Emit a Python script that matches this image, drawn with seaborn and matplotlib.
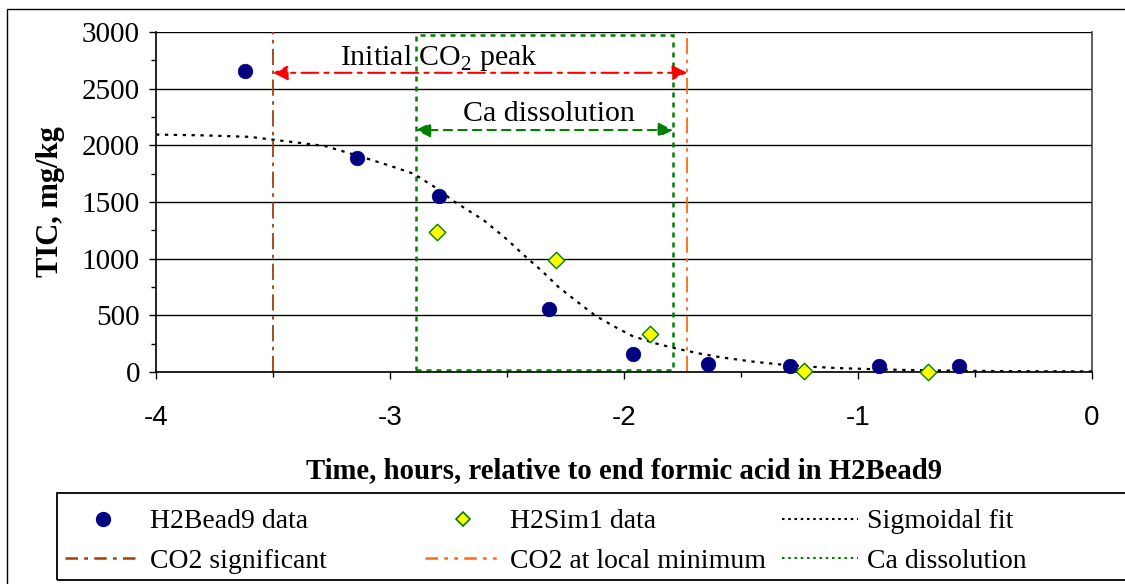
import matplotlib
matplotlib.use("Agg")
import matplotlib.pyplot as plt
import matplotlib.patches as mpatches
from matplotlib.lines import Line2D
from matplotlib.ticker import MultipleLocator
import seaborn as sns
import pandas as pd

# ---- data ----
bead_time = [-3.62, -3.14, -2.79, -2.32, -1.96, -1.64, -1.29, -0.91, -0.57]
bead_tic = [2655, 1890, 1550, 555, 155, 72, 53, 53, 53]

sim_time = [-2.80, -2.29, -1.89, -1.23, -0.70]
sim_tic = [1232, 990, 332, 5, 3]

fit_time = [-4.0, -3.8, -3.6, -3.48, -3.28, -3.14, -3.0, -2.9, -2.8, -2.73, -2.6,
            -2.5, -2.43, -2.35, -2.28, -2.2, -2.12, -2.04, -1.965, -1.87, -1.775,
            -1.67, -1.574, -1.45, -1.34, -1.2, -1.054, -0.9, -0.793, -0.6, -0.4, -0.2, 0.0]
fit_tic = [2095, 2088, 2075, 2045, 1995, 1910, 1820, 1750, 1620, 1510, 1340,
           1170, 1035, 890, 750, 620, 494, 400, 318, 255, 206,
           160, 126, 92, 68, 46, 32, 23, 18, 12, 8, 6, 5]

co2_significant = -3.50
co2_local_min = -1.73
ca_start = -2.89
ca_end = -1.79
ca_box_top = 2970
ca_box_bottom = 15
peak_arrow_y = 2640
peak_text_x = -2.79
peak_text_y = 2770
ca_arrow_y = 2135
ca_text_x = -2.32
ca_text_y = 2280

x_ticks = [-4, -3, -2, -1, 0]
x_tick_labels = ["-4", "-3", "-2", "-1", "0"]

legend_labels = ["H2Bead9 data", "H2Sim1 data", "Sigmoidal fit",
                 "CO2 significant", "CO2 at local minimum", "Ca dissolution"]

# ---- style ----
sns.set_theme(style="white")
plt.rcParams["font.family"] = ["Liberation Serif", "DejaVu Serif"]
plt.rcParams["mathtext.fontset"] = "custom"
plt.rcParams["mathtext.rm"] = "Liberation Serif"
for k in ["text.color", "axes.labelcolor", "xtick.color", "ytick.color"]:
    plt.rcParams[k] = "black"

W, H = 1125, 584
fig = plt.figure(figsize=(W / 100, H / 100), dpi=100)
ax = fig.add_axes([156 / W, 1 - 372 / H, (1092 - 156) / W, (372 - 32) / H])

# gridlines
ax.set_axisbelow(True)
ax.yaxis.grid(True, color="black", linewidth=1.0)
ax.xaxis.grid(False)

brown = "#A0400A"
orange = "#FF6A13"
green = "#008000"
navy = "#000080"

# vertical markers
ax.axvline(co2_significant, color=brown, linewidth=1.3, linestyle=(0, (9, 3, 2, 3)), zorder=2)
ax.axvline(co2_local_min, color=orange, linewidth=1.3, linestyle=(0, (9, 3, 2, 3, 2, 3)), zorder=2)
ax.add_patch(mpatches.Rectangle((ca_start, ca_box_bottom), ca_end - ca_start,
                                ca_box_top - ca_box_bottom, fill=False,
                                edgecolor=green, linewidth=1.8, linestyle=(0, (2, 2)), zorder=2))

# sigmoidal fit
fit_df = pd.DataFrame({"t": fit_time, "tic": fit_tic})
sns.lineplot(data=fit_df, x="t", y="tic", ax=ax, color="black", linewidth=1.6,
             linestyle=(0, (1.5, 2.5)), zorder=3, estimator=None, sort=False)

# data points
bead_df = pd.DataFrame({"t": bead_time, "tic": bead_tic})
sim_df = pd.DataFrame({"t": sim_time, "tic": sim_tic})
sns.scatterplot(data=bead_df, x="t", y="tic", ax=ax, color=navy, marker="o", s=110,
                edgecolor=navy, linewidth=0.5, zorder=4)
sns.scatterplot(data=sim_df, x="t", y="tic", ax=ax, color="#FFFF00", marker="D", s=70,
                edgecolor=green, linewidth=1.0, zorder=4)
for c in ax.collections[-2:]:
    c.set_clip_on(False)

# annotations
ax.annotate("", xy=(co2_significant, peak_arrow_y), xytext=(co2_local_min, peak_arrow_y),
            arrowprops=dict(arrowstyle="<|-|>", color="red", linewidth=1.5,
                            linestyle=(0, (8, 3, 2, 3)), mutation_scale=22, shrinkA=0, shrinkB=0))
ax.text(peak_text_x, peak_text_y, r"Initial CO$_2$ peak",
        ha="center", va="center", fontsize=21.5)
ax.annotate("", xy=(ca_start, ca_arrow_y), xytext=(ca_end, ca_arrow_y),
            arrowprops=dict(arrowstyle="<|-|>", color=green, linewidth=1.5,
                            linestyle=(0, (4, 3)), mutation_scale=22, shrinkA=0, shrinkB=0))
ax.text(ca_text_x, ca_text_y, "Ca dissolution", ha="center", va="center", fontsize=21.5)

# axes
ax.set_xlim(-4, 0)
ax.set_ylim(0, 3000)
ax.xaxis.set_minor_locator(MultipleLocator(0.5))
ax.yaxis.set_major_locator(MultipleLocator(500))
ax.yaxis.set_minor_locator(MultipleLocator(250))
ax.tick_params(axis="both", which="major", direction="out", length=5, width=1,
               labelsize=21, color="black", bottom=True, left=True, pad=6.5)
ax.tick_params(axis="both", which="minor", direction="out", length=3.5, width=1,
               color="black", bottom=True, left=True)
ax.set_xticks(x_ticks)
ax.set_xticklabels(x_tick_labels, fontfamily="Liberation Sans", fontsize=20)
ax.tick_params(axis="x", pad=19)
for side in ["left", "bottom", "right"]:
    ax.spines[side].set_visible(True)
    ax.spines[side].set_color("black")
    ax.spines[side].set_linewidth(1.2)
ax.spines["top"].set_visible(False)
ax.spines["right"].set_color("#444444")

ax.set_xlabel("Time, hours, relative to end formic acid in H2Bead9", fontsize=20.7,
              fontweight="bold", labelpad=18.5)
ax.set_ylabel("TIC, mg/kg", fontsize=22, fontweight="bold", labelpad=12)

# legend: three columns placed like the reference
h_bead = Line2D([], [], marker="o", color=navy, linestyle="none", markersize=10)
h_sim = Line2D([], [], marker="D", color="#FFFF00", markeredgecolor=green,
               markeredgewidth=1.2, linestyle="none", markersize=7)
h_fit = Line2D([], [], color="black", linestyle=(0, (1.2, 1.8)), linewidth=1.5)
h_sig = Line2D([], [], color=brown, linestyle=(0, (5, 2.5, 1.5, 2.5)), linewidth=1.8)
h_min = Line2D([], [], color=orange, linestyle=(0, (5, 2.5, 1.5, 2.5, 1.5, 2.5)), linewidth=1.8)
h_ca = Line2D([], [], color=green, linestyle=(0, (1.2, 1.8)), linewidth=1.5)
columns = [([h_bead, h_sig], [legend_labels[0], legend_labels[3]], 65),
           ([h_sim, h_min], [legend_labels[1], legend_labels[4]], 425),
           ([h_fit, h_ca], [legend_labels[2], legend_labels[5]], 782)]
for hs, ls, xpix in columns:
    lg = fig.legend(hs, ls, loc="upper left", bbox_to_anchor=(xpix / W, 1 - 509 / H),
                    frameon=False, borderpad=0, borderaxespad=0, fontsize=20,
                    handlelength=2.75, handletextpad=0.3, labelspacing=0.5)

fig.patches.append(mpatches.Rectangle((57 / W, 1 - 580 / H), (1140 - 57) / W, 87 / H,
                                      transform=fig.transFigure, fill=False,
                                      edgecolor="black", linewidth=1.3))
# outer border of the chart
fig.patches.append(mpatches.Rectangle((7 / W, -10 / H), 1140 / W, (H + 10 - 9) / H,
                                      transform=fig.transFigure, fill=False,
                                      edgecolor="black", linewidth=1.0))

fig.savefig("out.png", dpi=100)
